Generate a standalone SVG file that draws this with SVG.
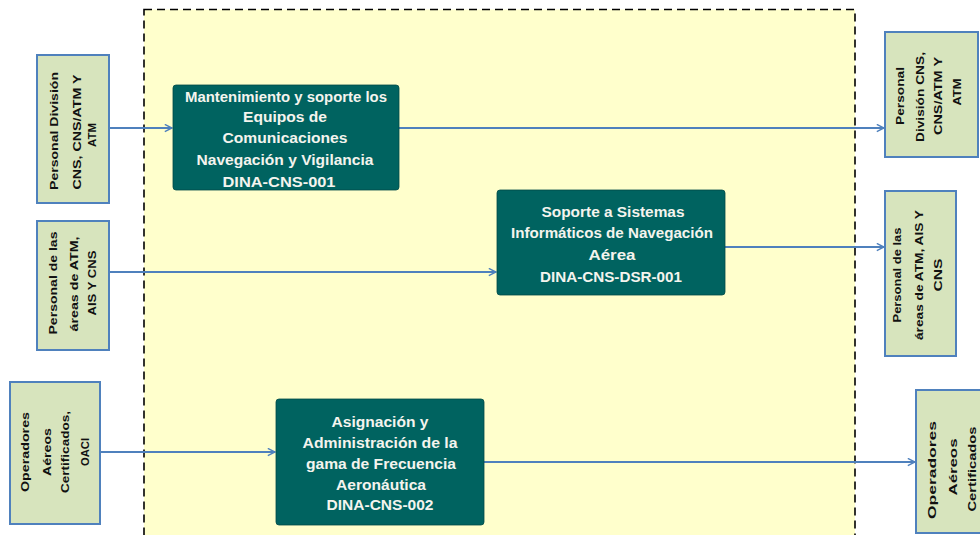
<svg xmlns="http://www.w3.org/2000/svg" width="980" height="535" viewBox="0 0 980 535">
  <defs>
    <marker id="arrow" viewBox="0 0 10 10" refX="9" refY="5" markerWidth="9" markerHeight="9" markerUnits="userSpaceOnUse" orient="auto">
      <path d="M1,1 L9,5 L1,9" fill="none" stroke="#4f81bd" stroke-width="1.6"/>
    </marker>
    <style>
      .frame { fill: #ffffcc; stroke: #000; stroke-width: 1.6; stroke-dasharray: 8 5; }
      .party { fill: #d7e4bd; stroke: #4f81bd; stroke-width: 2; }
      .proc { fill: #006360; stroke: #004a48; stroke-width: 0.8; }
      .ptext { font-family: "Liberation Sans", Arial, sans-serif; font-weight: bold; font-size: 10.5px; fill: #111; text-anchor: middle; dominant-baseline: central; }
      .ntext { font-family: "Liberation Sans", Arial, sans-serif; font-weight: bold; font-size: 14px; fill: #f4f4ee; text-anchor: middle; }
      .conn { fill: none; stroke: #4f81bd; stroke-width: 1.8; marker-end: url(#arrow); }
    </style>
  </defs>

  <rect width="980" height="535" fill="#ffffff"/>

  <!-- process boundary -->
  <rect class="frame" x="144" y="9.5" width="711" height="540"/>

  <!-- connectors -->
  <g id="connectors">
    <line class="conn" x1="96" y1="128" x2="172" y2="128"/>
    <line class="conn" x1="399" y1="128" x2="884" y2="128"/>
    <line class="conn" x1="109" y1="272" x2="496" y2="272"/>
    <line class="conn" x1="725" y1="247" x2="884" y2="247"/>
    <line class="conn" x1="100" y1="452" x2="275" y2="452"/>
    <line class="conn" x1="484" y1="462" x2="915" y2="462"/>
  </g>

  <!-- suppliers (left) -->
  <g id="in-personal-cns">
    <rect class="party" x="37" y="55" width="72" height="148"/>
    <g class="ptext">
      <text transform="translate(54,131) rotate(-90)" textLength="118" lengthAdjust="spacingAndGlyphs">Personal División</text>
      <text transform="translate(77,132) rotate(-90)" textLength="115" lengthAdjust="spacingAndGlyphs">CNS, CNS/ATM Y</text>
      <text transform="translate(92,135) rotate(-90)" textLength="24" lengthAdjust="spacingAndGlyphs">ATM</text>
    </g>
  </g>

  <g id="in-personal-areas">
    <rect class="party" x="37" y="221" width="72" height="129"/>
    <g class="ptext">
      <text transform="translate(53,283) rotate(-90)" textLength="103" lengthAdjust="spacingAndGlyphs">Personal de las</text>
      <text transform="translate(74,284) rotate(-90)" textLength="95" lengthAdjust="spacingAndGlyphs">áreas de ATM,</text>
      <text transform="translate(92,283) rotate(-90)" textLength="65" lengthAdjust="spacingAndGlyphs">AIS Y CNS</text>
    </g>
  </g>

  <g id="in-operadores">
    <rect class="party" x="10" y="382" width="90" height="142"/>
    <g class="ptext">
      <text transform="translate(25,452) rotate(-90)" textLength="80" lengthAdjust="spacingAndGlyphs">Operadores</text>
      <text transform="translate(47,452) rotate(-90)" textLength="48" lengthAdjust="spacingAndGlyphs">Aéreos</text>
      <text transform="translate(65,452) rotate(-90)" textLength="82" lengthAdjust="spacingAndGlyphs">Certificados,</text>
      <text transform="translate(85,452) rotate(-90)" textLength="28" lengthAdjust="spacingAndGlyphs">OACI</text>
    </g>
  </g>

  <!-- processes -->
  <g id="proc-mantenimiento">
    <rect class="proc" x="173" y="85" width="226" height="105" rx="3"/>
    <g class="ntext">
      <text x="286" y="102" textLength="202" lengthAdjust="spacingAndGlyphs">Mantenimiento y soporte los</text>
      <text x="285" y="122" textLength="84" lengthAdjust="spacingAndGlyphs">Equipos de</text>
      <text x="285" y="143" textLength="125" lengthAdjust="spacingAndGlyphs">Comunicaciones</text>
      <text x="285" y="165" textLength="177" lengthAdjust="spacingAndGlyphs">Navegación y Vigilancia</text>
      <text x="279" y="187" textLength="113" lengthAdjust="spacingAndGlyphs">DINA-CNS-001</text>
    </g>
  </g>

  <g id="proc-sistemas">
    <rect class="proc" x="497" y="190" width="228" height="105" rx="3"/>
    <g class="ntext">
      <text x="613" y="217" textLength="143" lengthAdjust="spacingAndGlyphs">Soporte a Sistemas</text>
      <text x="612" y="238" textLength="202" lengthAdjust="spacingAndGlyphs">Informáticos de Navegación</text>
      <text x="612" y="260" textLength="47" lengthAdjust="spacingAndGlyphs">Aérea</text>
      <text x="611" y="282" textLength="142" lengthAdjust="spacingAndGlyphs">DINA-CNS-DSR-001</text>
    </g>
  </g>

  <g id="proc-frecuencias">
    <rect class="proc" x="276" y="399" width="208" height="126" rx="3"/>
    <g class="ntext">
      <text x="380" y="427" textLength="97" lengthAdjust="spacingAndGlyphs">Asignación y</text>
      <text x="380" y="448" textLength="155" lengthAdjust="spacingAndGlyphs">Administración de la</text>
      <text x="381" y="469" textLength="150" lengthAdjust="spacingAndGlyphs">gama de Frecuencia</text>
      <text x="381" y="490" textLength="90" lengthAdjust="spacingAndGlyphs">Aeronáutica</text>
      <text x="380" y="510" textLength="107" lengthAdjust="spacingAndGlyphs">DINA-CNS-002</text>
    </g>
  </g>

  <!-- customers (right) -->
  <g id="out-personal-cns">
    <rect class="party" x="885" y="32" width="93" height="125"/>
    <g class="ptext">
      <text transform="translate(900,96) rotate(-90)" textLength="58" lengthAdjust="spacingAndGlyphs">Personal</text>
      <text transform="translate(920,97) rotate(-90)" textLength="90" lengthAdjust="spacingAndGlyphs">División CNS,</text>
      <text transform="translate(938,96) rotate(-90)" textLength="78" lengthAdjust="spacingAndGlyphs">CNS/ATM Y</text>
      <text transform="translate(957,92) rotate(-90)" textLength="27" lengthAdjust="spacingAndGlyphs">ATM</text>
    </g>
  </g>

  <g id="out-personal-areas">
    <rect class="party" x="885" y="191" width="71" height="165"/>
    <g class="ptext">
      <text transform="translate(897,275) rotate(-90)" textLength="95" lengthAdjust="spacingAndGlyphs">Personal de las</text>
      <text transform="translate(919,275) rotate(-90)" textLength="130" lengthAdjust="spacingAndGlyphs">áreas de ATM, AIS Y</text>
      <text transform="translate(938,275) rotate(-90)" textLength="33" lengthAdjust="spacingAndGlyphs">CNS</text>
    </g>
  </g>

  <g id="out-operadores">
    <rect class="party" x="916" y="390" width="80" height="143"/>
    <g class="ptext">
      <text transform="translate(932,470) rotate(-90)" textLength="98" lengthAdjust="spacingAndGlyphs">Operadores</text>
      <text transform="translate(953,467) rotate(-90)" textLength="57" lengthAdjust="spacingAndGlyphs">Aéreos</text>
      <text transform="translate(972,469) rotate(-90)" textLength="85" lengthAdjust="spacingAndGlyphs">Certificados</text>
    </g>
  </g>
</svg>
